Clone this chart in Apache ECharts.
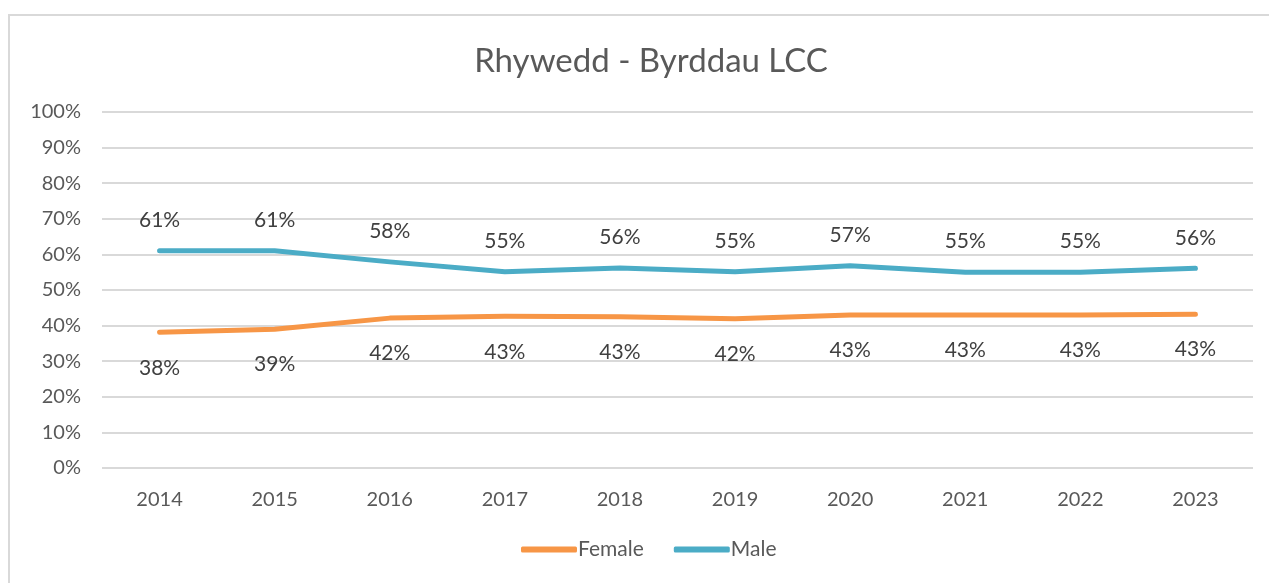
<!DOCTYPE html>
<html>
<head>
<meta charset="utf-8">
<script src="https://cdn.jsdelivr.net/npm/echarts@6/dist/echarts.min.js"></script>
<style>
    html, body { margin: 0; padding: 0; background: #fff; }
    #frame {
        position: absolute; left: 8px; top: 14px;
        width: 1300px; height: 620px;
        border: 2px solid #d9d9d9; box-sizing: border-box;
    }
    #main { position: absolute; left: 0; top: 0; width: 1269px; height: 583px; }
</style>
</head>
<body>
<div id="frame"></div>
<div id="main"></div>
<script>
// data
const years = ['2014', '2015', '2016', '2017', '2018', '2019', '2020', '2021', '2022', '2023'];
const female = [38.1, 39.0, 42.1, 42.6, 42.5, 41.9, 43.0, 43.0, 43.0, 43.2];
const male = [61.0, 61.0, 57.9, 55.1, 56.2, 55.1, 56.8, 55.0, 55.0, 56.1];
const yTicks = [0, 10, 20, 30, 40, 50, 60, 70, 80, 90, 100];

const font = 'Lato, "Open Sans", sans-serif';
const blue = '#4BACC6';
const orange = '#F79646';

let chart = echarts.init(document.getElementById('main'));

let lbl = (pos, dist) => ({
    show: true,
    position: pos,
    distance: dist,
    color: '#404040',
    fontSize: 21,
    fontFamily: font,
    formatter: (p) => Math.round(p.value) + '%'
});

let option = {
    animation: false,
    title: {
        text: 'Rhywedd - Byrddau LCC',
        left: 646,
        textAlign: 'center',
        top: 40,
        textStyle: { fontSize: 33, fontWeight: 'normal', color: '#595959', fontFamily: font }
    },
    legend: {
        bottom: 18,
        left: 516,
        icon: 'roundRect',
        itemWidth: 56,
        itemHeight: 6,
        itemGap: 30,
        textStyle: { fontSize: 21, color: '#595959', fontFamily: font, padding: [0, 0, 0, -4] },
        data: ['Female', 'Male']
    },
    grid: { left: 102, right: 16, top: 112, bottom: 115 },
    xAxis: {
        type: 'category',
        data: years,
        boundaryGap: true,
        axisLine: { show: false },
        axisTick: { show: false },
        axisLabel: { color: '#595959', fontSize: 20, fontFamily: font, margin: 22 }
    },
    yAxis: {
        type: 'value',
        min: yTicks[0],
        max: yTicks[yTicks.length - 1],
        interval: 10,
        axisLine: { show: false },
        axisTick: { show: false },
        axisLabel: { color: '#595959', fontSize: 20, fontFamily: font, margin: 21, formatter: '{value}%' },
        splitLine: { lineStyle: { color: '#d9d9d9', width: 2 } }
    },
    series: [
        {
            name: 'Female',
            type: 'line',
            data: female,
            symbol: 'circle',
            symbolSize: 0,
            lineStyle: { color: orange, width: 5, cap: 'round', join: 'round' },
            itemStyle: { color: orange },
            label: lbl('bottom', 25)
        },
        {
            name: 'Male',
            type: 'line',
            data: male,
            symbol: 'circle',
            symbolSize: 0,
            lineStyle: { color: blue, width: 5, cap: 'round', join: 'round' },
            itemStyle: { color: blue },
            label: lbl('top', 20)
        }
    ]
};
chart.setOption(option);
</script>
</body>
</html>
